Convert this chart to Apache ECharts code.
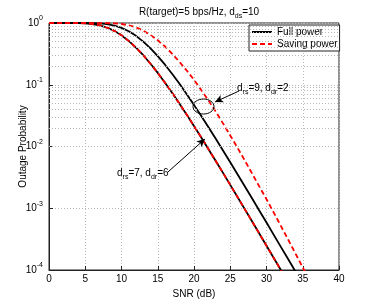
<!DOCTYPE html>
<html><head><meta charset="utf-8">
<script src="https://cdn.jsdelivr.net/npm/echarts@6/dist/echarts.min.js"></script>
<style>html,body{margin:0;padding:0;background:#fff}#c{width:374px;height:305px}</style>
</head><body><div id="c"></div>
<script>
const snr = [0,1,2,3,4,5,6,7,8,9,10,11,12,13,14,15,16,17,18,19,20,21,22,23,24,25,26,27,28,29,30,31,32,33,34,35,36];
// d_rs=7, d_dr=6 (full and saving power overlap)
const full76 = [1,1,1,0.9993,0.9964,0.9867,0.963,0.9172,0.8444,0.7465,0.632,0.5127,0.3996,0.3005,0.2189,0.1554,0.1078,0.0735,0.04933,0.03272,0.02149,0.0140,0.009056,0.005833,0.003739,0.002391,0.001523,0.000969,0.0006155,0.0003901,0.0002474,0.0001565,0.000099,0.0000626,0.0000396,0.000025,0.0000158];
const saving76 = [1,1,1,0.9993,0.9964,0.9867,0.963,0.9172,0.8444,0.7465,0.632,0.5127,0.3996,0.3005,0.2189,0.1554,0.1078,0.0735,0.04933,0.03272,0.02149,0.0140,0.009056,0.005833,0.003739,0.002391,0.001523,0.000969,0.0006155,0.0003901,0.0002474,0.0001565,0.000099,0.0000626,0.0000396,0.000025,0.0000158];
// d_rs=9, d_dr=2
const full92 = [1,1,1,1,0.9999,0.9991,0.9958,0.985,0.9592,0.9105,0.8349,0.7348,0.6192,0.5,0.388,0.2907,0.2112,0.1495,0.1036,0.07044,0.04722,0.03126,0.02051,0.01336,0.008634,0.005558,0.003562,0.002275,0.00145,0.000922,0.000586,0.000371,0.000235,0.000149,0.0000942,0.0000596,0.0000377];
const saving92 = [1,1,1,1,1,0.9998,0.999,0.997,0.993,0.9863,0.9638,0.9204,0.8511,0.7499,0.6383,0.5248,0.4169,0.3162,0.2344,0.1698,0.1202,0.0822,0.0556,0.0367,0.0237,0.0151,0.00955,0.00596,0.00367,0.00226,0.0014,0.000851,0.000513,0.000309,0.000184,0.00011,0.0000653];
const xTicks = [0,5,10,15,20,25,30,35,40];
const yDecades = [1e-4,1e-3,1e-2,1e-1,1];
const minorMult = [2,3,4,5,6,7,8,9];

const FONT = "'Liberation Sans', Arial, sans-serif";
const pairs = arr => snr.map((x,i)=>[x,arr[i]]);
const minorLines = [];
yDecades.slice(0,-1).forEach(d => minorMult.forEach(m => minorLines.push({yAxis: m*d})));

const chart = echarts.init(document.getElementById('c'), null, {renderer:'canvas'});
const gridStyle = {type:[1,2], color:'#b8b8b8', width:1};
const lineBase = {type:'line', symbol:'none', showSymbol:false, smooth:false, clip:true, z:3};
chart.setOption({
  animation:false,
  backgroundColor:'#fff',
  textStyle:{fontFamily:FONT},
  title:{
    text:'{a|R(target)=5 bps/Hz, d}{s|ds}{a|=10}',
    left:194, top:2, textAlign:'center',
    textStyle:{fontWeight:'normal', rich:{
      a:{fontSize:10, fontFamily:FONT, fontWeight:'normal', color:'#000', verticalAlign:'top'},
      s:{fontSize:7, fontFamily:FONT, fontWeight:'normal', color:'#000', verticalAlign:'bottom', padding:[6,0,0,0]}
    }}
  },
  grid:{left:49, right:35, top:23, bottom:35, show:true, borderColor:'#222', borderWidth:1, backgroundColor:'transparent'},
  legend:{
    data:['Full power','Saving power'],
    orient:'vertical', left:249, top:25,
    backgroundColor:'#fff', borderColor:'#222', borderWidth:1,
    padding:[2,2,2,2], itemGap:2, itemWidth:20, itemHeight:10, itemTextGap:1,
    itemStyle:{opacity:0, borderWidth:0},
    textStyle:{fontSize:10, color:'#000', fontFamily:FONT}
  },
  xAxis:{
    type:'value', min:0, max:40, interval:5,
    name:'SNR (dB)', nameLocation:'middle', nameGap:16,
    nameTextStyle:{fontSize:10, color:'#000', fontFamily:FONT},
    axisLine:{show:true, lineStyle:{color:'#222'}},
    axisTick:{show:true, inside:true, length:4, lineStyle:{color:'#222'}},
    axisLabel:{fontSize:10, color:'#000', margin:4, fontFamily:FONT},
    splitLine:{show:true, lineStyle:gridStyle}
  },
  yAxis:{
    type:'log', logBase:10, min:1e-4, max:1, splitNumber:4,
    name:'Outage Probability', nameLocation:'middle', nameGap:21, nameMoveOverlap:false,
    nameTextStyle:{fontSize:10, color:'#000', fontFamily:FONT},
    axisLine:{show:true, lineStyle:{color:'#222'}},
    axisTick:{show:true, inside:true, length:4, lineStyle:{color:'#222'}},
    axisLabel:{
      margin:6, color:'#000',
      formatter: v => '{b|10}{s|' + Math.round(Math.log10(v)) + '}',
      rich:{
        b:{fontSize:10, fontFamily:FONT, color:'#000', padding:[3,0,3,0]},
        s:{fontSize:7, fontFamily:FONT, color:'#000', verticalAlign:'top'}
      }
    },
    splitLine:{show:true, lineStyle:gridStyle}
  },
  series:[
    {type:'line', name:'minorgrid', data:[], silent:true, z:1,
     markLine:{silent:true, symbol:['none','none'], label:{show:false},
       lineStyle:{type:[1,2], color:'#b8b8b8', width:1}, data:minorLines, animation:false}},
    Object.assign({}, lineBase, {name:'Full power', data:pairs(full76), lineStyle:{color:'#000', width:1.8}, itemStyle:{color:'#000'}}),
    Object.assign({}, lineBase, {name:'Full power', data:pairs(full92), lineStyle:{color:'#000', width:1.8}, itemStyle:{color:'#000'}}),
    Object.assign({}, lineBase, {name:'Saving power', data:pairs(saving76), z:4, lineStyle:{color:'#ff0000', width:1.8, type:[5,3]}, itemStyle:{color:'#ff0000'}}),
    Object.assign({}, lineBase, {name:'Saving power', data:pairs(saving92), z:4, lineStyle:{color:'#ff0000', width:1.8, type:[5,3]}, itemStyle:{color:'#ff0000'}}),
    {type:'line', name:'arrows', data:[], silent:true, z:5,
     markLine:{silent:true, symbol:['none','arrow'], symbolSize:[6,8], label:{show:false},
       lineStyle:{type:'solid', color:'#000', width:1}, animation:false,
       data:[
         [{coord:[26.2,0.0792]},{coord:[22.9,0.0526]}],
         [{coord:[16.4,0.00386]},{coord:[21.5,0.0132]}]
       ]}}
  ]
});

const p = (x,y) => chart.convertToPixel({xAxisIndex:0, yAxisIndex:0}, [x,y]);
const ec = p(21.31, 0.0444);
const t1 = p(25.93, 0.1067);
const t2 = p(9.38, 0.00449);
const richAnn = {
  a:{fontSize:10, fontFamily:FONT, fill:'#000', verticalAlign:'top'},
  s:{fontSize:7, fontFamily:FONT, fill:'#000', verticalAlign:'bottom', padding:[6,0,0,0]}
};
chart.setOption({graphic:[
  {type:'ellipse', shape:{cx:ec[0], cy:ec[1], rx:10.5, ry:7.5}, style:{stroke:'#000', fill:null, lineWidth:1}, z:10},
  {type:'text', x:t1[0], y:t1[1], style:{text:'{a|d}{s|rs}{a|=9, d}{s|dr}{a|=2}', rich:richAnn, fontFamily:FONT}, z:10},
  {type:'text', x:t2[0], y:t2[1], style:{text:'{a|d}{s|rs}{a|=7, d}{s|dr}{a|=6}', rich:richAnn, fontFamily:FONT}, z:10}
]});
</script></body></html>
